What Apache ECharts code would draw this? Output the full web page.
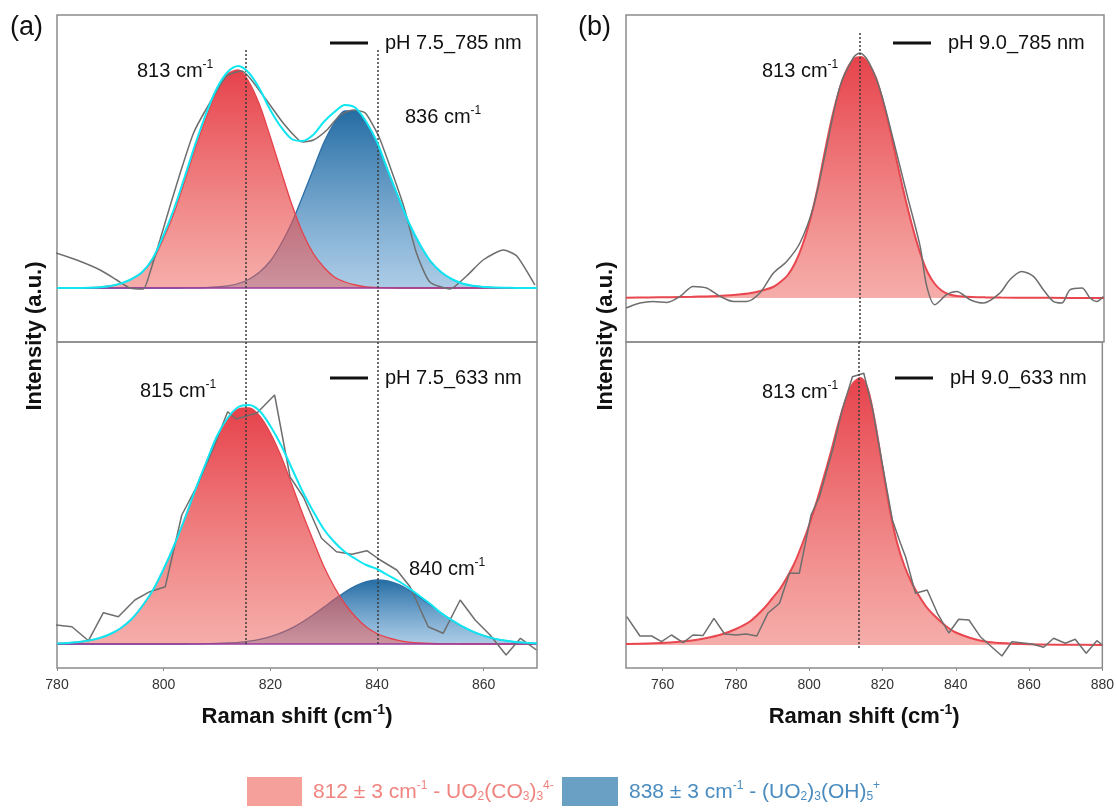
<!DOCTYPE html>
<html><head><meta charset="utf-8">
<script src="https://cdn.jsdelivr.net/npm/echarts@6/dist/echarts.min.js"></script>
<style>html,body{margin:0;padding:0;background:#fff}#c{width:1117px;height:810px}</style>
</head><body><div id="c"></div>
<script>
// ---------- DATA ----------
// Panel (a): pH 7.5 ; Panel (b): pH 9.0  (intensity in arbitrary units, baseline = 0)
const ticksA = [780, 800, 820, 840, 860];
const ticksB = [760, 780, 800, 820, 840, 860, 880];
const peakLinesA = [815.4, 840.2];
const peakLinesB = [813.6];

const xFitA = [780,782,784,786,788,790,792,794,796,798,800,802,804,806,808,810,812,814,816,818,820,822,824,826,828,830,832,834,836,838,840,842,844,846,848,850,852,854,856,858,860,862,864,866,868,870];

const redA785  = [0,0,0.1,0.3,0.8,2,4.5,9,16,28,50,76,108,141,171,197,214,218,206,183,151,117,84,56,35,21,11,6,3,1,0.5,0.2,0,0,0,0,0,0,0,0,0,0,0,0,0,0];
const blueA785 = [0,0,0,0,0,0,0,0,0,0,0,0,0.06,0.16,0.4,1,2.2,4.5,8.8,16,27,44,65,91,118,145,165,177,177,165,145,118,91,65,44,27,16,8.8,4.5,2.2,1,0.4,0.16,0.06,0,0];
const fitA785  = [0,0,0.1,0.3,0.8,2,4.5,9,16,30,53,80,112,145,175,200,216,222,215,199,178,161,149,147,153,166,176,183,180,166,146,118,91,65,44,27,16,9,4.5,2.2,1,0.4,0.2,0.1,0,0];
const rawA785  = [[779.8,35],[783.7,28],[788.1,18],[791.2,8],[793.7,0],[796.2,-1],[797.4,15],[799.3,48],[801.2,82],[803.1,115],[805.6,155],[808.1,180],[811.8,212],[814.6,217],[818.7,192],[822.4,165],[825.3,148],[826.2,146],[828.1,148],[830.6,158],[833.1,173],[835.6,178],[837.8,175],[840.3,152],[842.4,122],[845,82],[847.4,35],[849.9,6],[853.7,-1],[856.8,12],[859.9,28],[863.7,38],[866.2,32],[869.6,3]];

const redA633  = [0.5,1,2,3.5,6,10,16,25,38,54,75,99,126,155,182,207,225,235,236,228,211,188,160,131,104,78,57,40,27,17,10.5,6.3,3.6,1.9,1,0.5,0.25,0.1,0,0,0,0,0,0,0,0];
const blueA633 = [0,0,0,0,0,0,0,0,0,0,0,0,0,0.1,0.3,0.5,1,1.7,2.9,4.7,7.4,11.1,15.9,22,29,36.7,44.6,52,58.1,62.3,64,63,59.6,54,46.9,39.1,31.2,23.9,17.6,12.4,8.4,5.4,3.4,2,1.2,0.6];
const fitA633  = [0.5,1,2,3.5,6,10,16,25,38,54,75,99,126,155,182,208,226,237,239,233,218,199,176,153,133,115,102,92,85,79,75,69,63,56,48,40,31,24,17.6,12.4,8.4,5.4,3.4,2,1.2,0.6];
const rawA633  = [[779.8,19],[782.8,17.3],[785.9,3.3],[788.7,31.3],[791.5,27.3],[794.6,44],[797.4,52.3],[800.3,57.3],[803.4,129],[806.2,157.3],[809.3,195.7],[812,232.3],[813.6,225],[817.5,231],[820.8,249],[823.7,167],[826.2,147],[829.6,105.7],[832.4,92.3],[835.3,89.7],[838.1,93.3],[840.6,84],[843.7,74],[846.2,57.3],[849.6,17.3],[852.4,10.7],[855.6,44],[858.4,24],[861.2,9],[864.2,-11],[866.9,5.7],[869.9,-6]];

const xFitB = [750,756,762,768,772,776,780,784,788,790,792,794,796,798,800,802,804,806,808,810,812,814,816,818,820,822,824,826,828,830,832,834,836,838,840,844,848,852,860,870,880];
const redB785 = [0.3,0.5,0.8,1.2,1.6,2.2,3.2,5,8.5,11,16,23,35,53,77,108,145,180,208,228,239,241,234,220,195,165,131,99,70,45,26,14,7,3.5,2,1,0.6,0.4,0.2,0.1,0];
const rawB785 = [[750,-10],[753.8,-5],[757.4,-3.4],[761.1,-4.4],[764.7,1.6],[768.3,11.6],[771.9,10],[775.6,1.6],[779.2,-3.4],[782.8,-3.4],[786.4,5],[790.1,25],[793.7,36.6],[797.3,55],[801,91.6],[804.6,151.6],[808.2,211.6],[811.8,240],[813.6,245],[815.9,236.6],[819.1,208.3],[822.7,158],[826.3,105],[830,51.6],[831.8,11.6],[834,-6.7],[837.2,3.3],[839.9,6.6],[843.6,-1.7],[847.2,-5],[851.7,5],[854.4,18.3],[857.6,26.6],[860.8,21.6],[863.5,8.3],[866.2,-3.4],[868.5,-5],[870.8,8.3],[874,10],[876.2,0],[878,-3.4],[879.8,1.6]];

const redB633 = [1,1.5,2.5,4.5,7,10.5,16,24,38,47,56,68,82,100,120,143,168,194,222,246,262,267,256,222,178,135,102,79,62,49,38,30,23,17,12.5,7,3.5,2,0.8,0.3,0];
const rawB633 = [[750.2,28.3],[753.8,9],[757,9],[759.7,3.3],[762.4,10],[765.6,2.3],[768.3,10],[771,9.4],[774,26.7],[776.9,11],[780.1,10],[782.8,11],[785.7,9],[788.7,31.7],[791.9,41.7],[794.6,71.7],[797.3,71.7],[800.5,130],[802.8,148.3],[806.4,195],[809,235],[811.8,268.3],[814.9,271.7],[817.3,236],[820,180],[822.7,125],[824.9,101.7],[826.3,88.3],[829,51.7],[832.2,55],[835,31.7],[838.1,12],[840.8,25.7],[843.6,25],[846.7,8.3],[852.6,-11],[855.3,3.3],[860.8,1],[864,-2.3],[866.7,6.7],[869.9,1.7],[872.6,5.7],[875.6,-8.3],[878.5,4.3],[880,0]];

const seriesNames = ['pH 7.5_785 nm', 'pH 7.5_633 nm', 'pH 9.0_785 nm', 'pH 9.0_633 nm'];
const peakLabels = ['813', '836', '815', '840', '813', '813'];

// ---------- CHART ----------
const FONT = "'Liberation Sans', Arial, sans-serif";
const chart = echarts.init(document.getElementById('c'), null, {renderer: 'canvas'});
const zip = (xs, ys) => xs.map((x, i) => [x, ys[i]]);

const redGrad = () => new echarts.graphic.LinearGradient(0, 0, 0, 1, [
  {offset: 0, color: 'rgba(228,50,60,0.92)'}, {offset: 1, color: 'rgba(236,92,86,0.5)'}]);
const blueGrad = () => new echarts.graphic.LinearGradient(0, 0, 0, 1, [
  {offset: 0, color: 'rgba(30,104,160,0.97)'}, {offset: 1, color: 'rgba(72,142,200,0.45)'}]);

function areaSeries(gi, data, lineColor, grad, z) {
  return {type: 'line', xAxisIndex: gi, yAxisIndex: gi, data: data, showSymbol: false, smooth: 0.3,
    lineStyle: {color: lineColor, width: 1.3}, areaStyle: {color: grad, opacity: 1}, z: z, silent: true};
}
function lineSeries(gi, name, data, color, width, z, smooth) {
  return {type: 'line', name: name, xAxisIndex: gi, yAxisIndex: gi, data: data, showSymbol: false,
    smooth: smooth, lineStyle: {color: color, width: width}, itemStyle: {color: color}, z: z, silent: true};
}
const dashStyle = {color: '#3c3c3c', width: 1.5, type: [2, 2]};
function vlines(xs, y1, y2) {
  return {silent: true, symbol: ['none', 'none'], label: {show: false}, lineStyle: dashStyle,
    emphasis: {disabled: true},
    data: xs.map(x => [{coord: [x, y1]}, {coord: [x, y2]}])};
}

const grids = [
  {left: 57, top: 15, width: 480, height: 327},
  {left: 57, top: 342, width: 480, height: 326},
  {left: 626, top: 15, width: 478, height: 327},
  {left: 626, top: 342, width: 478, height: 326}
].map(g => Object.assign(g, {show: true, borderColor: '#8c8c8c', borderWidth: 1.5, backgroundColor: 'transparent'}));

const yRanges = [[-54, 273], [-24, 302], [-44, 283], [-23, 303]];
const xRanges = [[780, 870], [780, 870], [750, 880], [750, 880]];

const xTitleRich = {
  b: {fontSize: 22, fontWeight: 'bold', fontFamily: FONT, color: '#111'},
  sup: {fontSize: 14, fontWeight: 'bold', fontFamily: FONT, color: '#111', padding: [0, 0, 13, 0]}
};

const xAxes = xRanges.map((r, i) => {
  const bottom = (i % 2 === 1);
  const ticks = i < 2 ? ticksA : ticksB;
  return {
    type: 'value', gridIndex: i, min: r[0], max: r[1], show: bottom,
    splitLine: {show: false}, axisLine: {show: false, onZero: false},
    axisTick: {show: true, length: 3, customValues: ticks, lineStyle: {color: '#8c8c8c'}},
    axisLabel: {show: true, customValues: ticks, fontSize: 14, color: '#333', margin: 10, fontFamily: FONT},
    name: bottom ? '{b|Raman shift (cm}{sup|-1}{b|)}' : '',
    nameLocation: 'middle', nameGap: 35,
    nameTextStyle: {rich: xTitleRich}
  };
});
const yAxes = yRanges.map((r, i) => ({type: 'value', gridIndex: i, min: r[0], max: r[1], show: false, splitLine: {show: false}}));

const series = [
  // grid 0 : pH 7.5 785 nm
  areaSeries(0, zip(xFitA, blueA785), '#2b6ea6', blueGrad(), 1),
  areaSeries(0, zip(xFitA, redA785), '#e5434c', redGrad(), 2),
  lineSeries(0, 'base0', [[780, 0], [870, 0]], '#9a3a9c', 1.5, 3, false),
  lineSeries(0, seriesNames[0], rawA785, '#6e6e6e', 1.5, 4, 0.2),
  Object.assign(lineSeries(0, 'fit0', zip(xFitA, fitA785), '#10e6f2', 2, 5, 0.3), {markLine: vlines(peakLinesA, 238, -54)}),
  // grid 1 : pH 7.5 633 nm
  areaSeries(1, zip(xFitA, blueA633), '#2b6ea6', blueGrad(), 1),
  areaSeries(1, zip(xFitA, redA633), '#e5434c', redGrad(), 2),
  lineSeries(1, 'base1', [[780, 0], [870, 0]], '#9a3a9c', 1.5, 3, false),
  lineSeries(1, seriesNames[1], rawA633, '#6e6e6e', 1.5, 4, false),
  Object.assign(lineSeries(1, 'fit1', zip(xFitA, fitA633), '#10e6f2', 2, 5, 0.3), {markLine: vlines(peakLinesA, 302, -1)}),
  // grid 2 : pH 9.0 785 nm
  Object.assign(areaSeries(2, zip(xFitB, redB785), '#e5434c', redGrad(), 2), {lineStyle: {color: '#e8474f', width: 2}}),
  Object.assign(lineSeries(2, seriesNames[2], rawB785, '#6e6e6e', 1.5, 4, 0.3), {markLine: vlines(peakLinesB, 265, -44)}),
  // grid 3 : pH 9.0 633 nm
  Object.assign(areaSeries(3, zip(xFitB, redB633), '#e5434c', redGrad(), 2), {lineStyle: {color: '#e8474f', width: 2}}),
  Object.assign(lineSeries(3, seriesNames[3], rawB633, '#6e6e6e', 1.5, 4, false), {markLine: vlines(peakLinesB, 303, -3)})
];

const legendPos = [[330, 33], [330, 368], [893, 33], [895, 368]];
const legends = seriesNames.map((n, i) => ({
  data: [{name: n, icon: 'rect', itemStyle: {color: '#111', borderWidth: 0}}],
  left: legendPos[i][0], top: legendPos[i][1], padding: 0,
  itemWidth: 38, itemHeight: 3, selectedMode: false,
  textStyle: {fontSize: 20, color: '#111', fontFamily: FONT, padding: [0, 0, 0, 12]}
}));

const supRich = {sup: {fontSize: 12, fontFamily: FONT, fill: '#111', padding: [0, 0, 12, 0]}};
const labelPos = [[137, 71], [405, 117], [140, 391], [409, 569], [762, 71], [762, 392]];
const labels = peakLabels.map((p, i) => ({
  type: 'text', x: labelPos[i][0], y: labelPos[i][1], silent: true,
  style: {text: p + ' cm{sup|-1}', fontSize: 20, fontFamily: FONT, fill: '#111',
    align: 'left', verticalAlign: 'middle', rich: supRich}
}));

const legSal = '#f0847f', legBlue = '#4a8cc0';
const subsup = (c) => ({
  t: {fontSize: 21, fontFamily: FONT, fill: c},
  sup: {fontSize: 12, fontFamily: FONT, fill: c, padding: [0, 0, 12, 0]},
  sub: {fontSize: 12, fontFamily: FONT, fill: c, padding: [10, 0, 0, 0]}
});

const graphics = labels.concat([
  {type: 'text', x: 10, y: 28, silent: true, style: {text: '(a)', fontSize: 27, fontFamily: FONT, fill: '#111', align: 'left', verticalAlign: 'middle'}},
  {type: 'text', x: 578, y: 28, silent: true, style: {text: '(b)', fontSize: 27, fontFamily: FONT, fill: '#111', align: 'left', verticalAlign: 'middle'}},
  {type: 'text', x: 35, y: 336, rotation: Math.PI / 2, silent: true, style: {text: 'Intensity (a.u.)', fontSize: 22, fontWeight: 'bold', fontFamily: FONT, fill: '#111', align: 'center', verticalAlign: 'middle'}},
  {type: 'text', x: 606, y: 336, rotation: Math.PI / 2, silent: true, style: {text: 'Intensity (a.u.)', fontSize: 22, fontWeight: 'bold', fontFamily: FONT, fill: '#111', align: 'center', verticalAlign: 'middle'}},
  {type: 'rect', shape: {x: 247, y: 777, width: 55, height: 29}, style: {fill: '#f5a09b'}, silent: true},
  {type: 'rect', shape: {x: 562, y: 777, width: 56, height: 29}, style: {fill: '#6aa0c4'}, silent: true},
  {type: 'text', x: 313, y: 792, silent: true, style: {
    text: '{t|812 ± 3 cm}{sup|-1}{t| - UO}{sub|2}{t|(CO}{sub|3}{t|)}{sub|3}{sup|4-}',
    align: 'left', verticalAlign: 'middle', rich: subsup(legSal)}},
  {type: 'text', x: 629, y: 792, silent: true, style: {
    text: '{t|838 ± 3 cm}{sup|-1}{t| - (UO}{sub|2}{t|)}{sub|3}{t|(OH)}{sub|5}{sup|+}',
    align: 'left', verticalAlign: 'middle', rich: subsup(legBlue)}}
]);

chart.setOption({
  animation: false,
  backgroundColor: '#fff',
  textStyle: {fontFamily: FONT},
  grid: grids, xAxis: xAxes, yAxis: yAxes,
  legend: legends,
  series: series,
  graphic: graphics
});
</script></body></html>
